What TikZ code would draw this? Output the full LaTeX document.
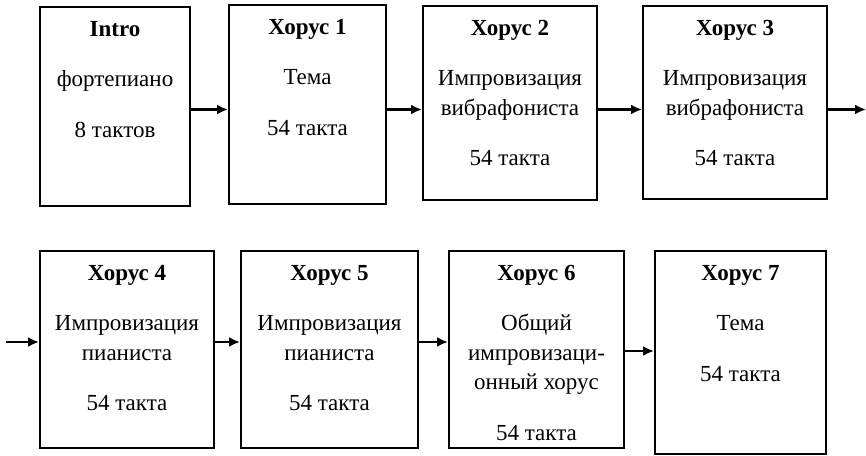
\documentclass[tikz,border=0pt]{standalone}
\usepackage{fontspec}
\setmainfont{Liberation Serif}
\usepackage{tikz}
\usetikzlibrary{arrows.meta, positioning}

\begin{document}
\begin{tikzpicture}[x=1pt, y=-1pt,
    box/.style={draw, rectangle, line width=2pt, inner sep=0pt},
    lbl/.style={align=center, inner sep=0pt, font=\fontsize{23}{29.5}\selectfont},
    arr/.style={line width=2.2pt, -{Latex[length=11pt, width=10pt]}}]
    \useasboundingbox (0,0) rectangle (866,455);

    % first row
    \node[box, minimum width=150pt, minimum height=199pt] (intro) at (115,106.5) {};
    \node[box, minimum width=157pt, minimum height=199pt] (ch1) at (307.5,104.5) {};
    \node[box, minimum width=174pt, minimum height=194pt] (ch2) at (510,103) {};
    \node[box, minimum width=184pt, minimum height=193pt] (ch3) at (735,102.5) {};

    \node[lbl] at (intro.north) [below=15pt] {\textbf{Intro}\\[21pt] фортепиано\\[21pt] 8 тактов};
    \node[lbl] at (ch1.north) [below=15pt] {\textbf{Хорус 1}\\[21pt] Тема\\[21pt] 54 такта};
    \node[lbl] at (ch2.north) [below=15pt] {\textbf{Хорус 2}\\[21pt] Импровизация\\ вибрафониста\\[21pt] 54 такта};
    \node[lbl] at (ch3.north) [below=15pt] {\textbf{Хорус 3}\\[21pt] Импровизация\\ вибрафониста\\[21pt] 54 такта};

    % second row
    \node[box, minimum width=174pt, minimum height=197pt] (ch4) at (127,349.5) {};
    \node[box, minimum width=177pt, minimum height=197pt] (ch5) at (329.5,349.5) {};
    \node[box, minimum width=175pt, minimum height=197pt] (ch6) at (536.5,349.5) {};
    \node[box, minimum width=171pt, minimum height=203pt] (ch7) at (740.5,352.5) {};

    \node[lbl] at (ch4.north) [below=15pt] {\textbf{Хорус 4}\\[21pt] Импровизация\\ пианиста\\[21pt] 54 такта};
    \node[lbl] at (ch5.north) [below=15pt] {\textbf{Хорус 5}\\[21pt] Импровизация\\ пианиста\\[21pt] 54 такта};
    \node[lbl] at (ch6.north) [below=15pt] {\textbf{Хорус 6}\\[21pt] Общий\\ импровизаци-\\ онный хорус\\[21pt] 54 такта};
    \node[lbl] at (ch7.north) [below=15pt] {\textbf{Хорус 7}\\[21pt] Тема\\[21pt] 54 такта};

    % arrow levels and loose ends
    \coordinate (lvl1) at (0,109.5);
    \coordinate (lvl2) at (0,342);
    \coordinate (lvl3) at (0,351);
    \coordinate (out3) at (866,109.5);
    \coordinate (in4) at (6,342);

    \draw[arr] (intro.east |- lvl1) -- (ch1.west |- lvl1);
    \draw[arr] (ch1.east |- lvl1) -- (ch2.west |- lvl1);
    \draw[arr] (ch2.east |- lvl1) -- (ch3.west |- lvl1);
    \draw[arr] (ch3.east |- lvl1) -- (out3);
    \draw[arr] (in4) -- (ch4.west |- lvl2);
    \draw[arr] (ch4.east |- lvl2) -- (ch5.west |- lvl2);
    \draw[arr] (ch5.east |- lvl2) -- (ch6.west |- lvl2);
    \draw[arr] (ch6.east |- lvl3) -- (ch7.west |- lvl3);
\end{tikzpicture}
\end{document}
